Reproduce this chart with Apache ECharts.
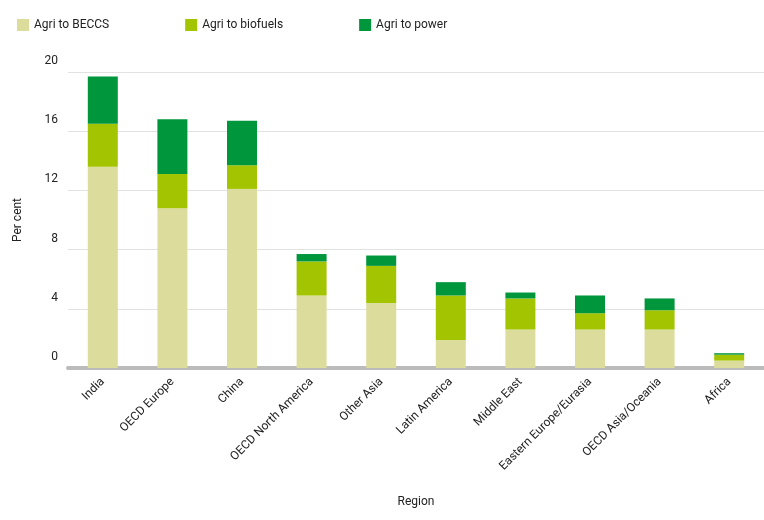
<!DOCTYPE html>
<html>
<head>
<meta charset="utf-8">
<script src="https://cdn.jsdelivr.net/npm/echarts@6/dist/echarts.min.js"></script>
<style>body{margin:0}#c{width:764px;height:520px}</style>
</head>
<body>
<div id="c"></div>
<script>
var regions = ['India', 'OECD Europe', 'China', 'OECD North America', 'Other Asia', 'Latin America', 'Middle East', 'Eastern Europe/Eurasia', 'OECD Asia/Oceania', 'Africa'];
var beccs = [13.6, 10.8, 12.1, 4.9, 4.4, 1.9, 2.6, 2.6, 2.6, 0.5];
var biofuels = [2.9, 2.3, 1.6, 2.3, 2.5, 3.0, 2.1, 1.1, 1.3, 0.4];
var power = [3.2, 3.7, 3.0, 0.5, 0.7, 0.9, 0.4, 1.2, 0.8, 0.1];
var yTicks = [0, 4, 8, 12, 16, 20];

var chart = echarts.init(document.getElementById('c'));
var font = 'Roboto';
chart.setOption({
    textStyle: { fontFamily: font },
    legend: {
        left: 12, top: 14, itemWidth: 12, itemHeight: 12, itemGap: 76,
        icon: 'rect',
        textStyle: { fontSize: 12, color: '#222' },
        data: ['Agri to BECCS', 'Agri to biofuels', 'Agri to power']
    },
    grid: { left: 68, right: 0, top: 72, bottom: 152 },
    xAxis: {
        type: 'category', data: regions,
        name: 'Region', nameLocation: 'middle', nameGap: 128,
        nameTextStyle: { fontSize: 12, color: '#222' },
        axisLine: { lineStyle: { color: '#bbb', width: 4 } },
        axisTick: { show: false },
        axisLabel: { rotate: 45, fontSize: 12, color: '#222', margin: 12 }
    },
    yAxis: {
        type: 'value', min: 0, max: 20, interval: 4,
        name: 'Per cent', nameLocation: 'middle', nameGap: 44,
        nameTextStyle: { fontSize: 12, color: '#222' },
        axisLabel: { fontSize: 12, color: '#222', verticalAlign: 'bottom', margin: 10, lineHeight: 22,
            formatter: function (v) { return yTicks.indexOf(v) >= 0 ? v : ''; } },
        splitLine: { lineStyle: { color: '#e2e2e2' } },
        axisLine: { show: false }, axisTick: { show: false }
    },
    series: [
        { name: 'Agri to BECCS', type: 'bar', stack: 't', barWidth: 30, data: beccs, itemStyle: { color: '#dcdc9c' } },
        { name: 'Agri to biofuels', type: 'bar', stack: 't', data: biofuels, itemStyle: { color: '#a3c400' } },
        { name: 'Agri to power', type: 'bar', stack: 't', data: power, itemStyle: { color: '#00963c' } }
    ]
});
</script>
</body>
</html>
